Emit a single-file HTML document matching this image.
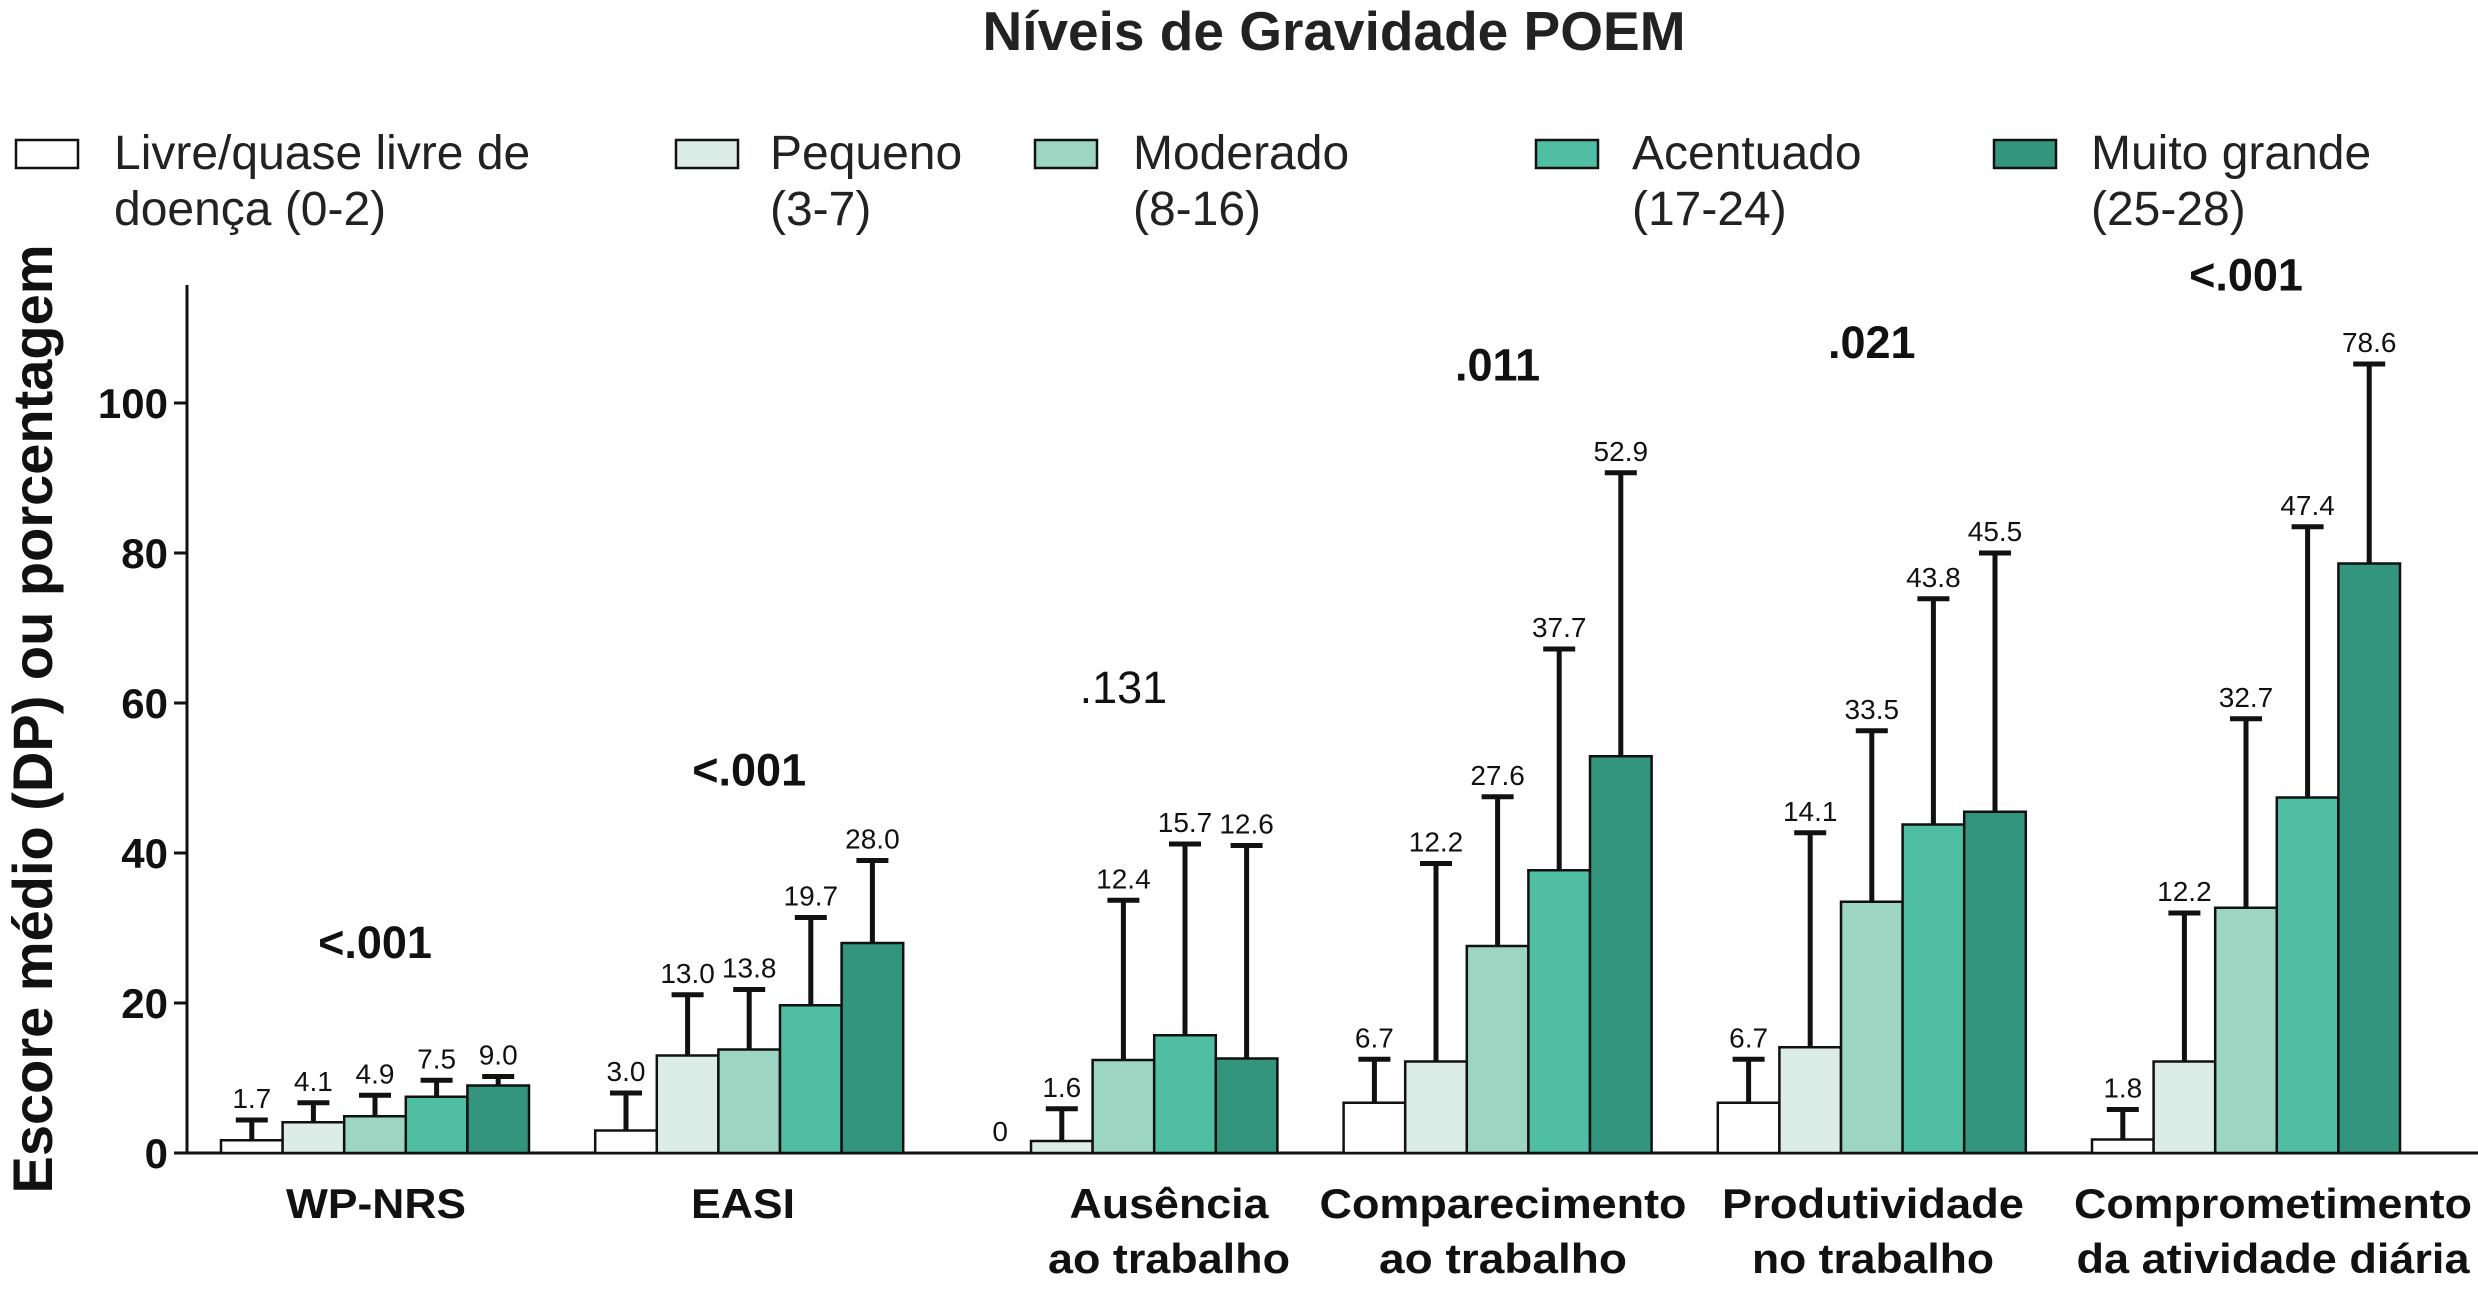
<!DOCTYPE html>
<html><head><meta charset="utf-8"><style>
html,body{margin:0;padding:0;background:#fff;}
svg{display:block;font-family:"Liberation Sans",sans-serif;}
</style></head><body>
<svg id="chart" width="2478" height="1294" viewBox="0 0 2478 1294" xmlns="http://www.w3.org/2000/svg">
<text x="1334" y="50" text-anchor="middle" font-weight="bold" font-size="55" fill="#222">Níveis de Gravidade POEM</text>
<g id="legend"></g>
<text transform="translate(52,719) rotate(-90)" text-anchor="middle" font-weight="bold" font-size="56" fill="#111">Escore médio (DP) ou porcentagem</text>
<g id="axes"></g>
<g id="bars"></g>
<g id="labels"></g>
</svg>
<script>
const categories = ["WP-NRS","EASI","Ausência ao trabalho","Comparecimento ao trabalho","Produtividade no trabalho","Comprometimento da atividade diária"];
const seriesNames = ["Livre/quase livre de doença (0-2)","Pequeno (3-7)","Moderado (8-16)","Acentuado (17-24)","Muito grande (25-28)"];
const meanFree = [1.7, 3.0, 0, 6.7, 6.7, 1.8];
const meanSmall = [4.1, 13.0, 1.6, 12.2, 14.1, 12.2];
const meanModerate = [4.9, 13.8, 12.4, 27.6, 33.5, 32.7];
const meanMarked = [7.5, 19.7, 15.7, 37.7, 43.8, 47.4];
const meanVeryLarge = [9.0, 28.0, 12.6, 52.9, 45.5, 78.6];
const upperFree = [4.4, 8.0, null, 12.5, 12.5, 5.8];
const upperSmall = [6.7, 21.1, 5.9, 38.6, 42.7, 32.0];
const upperModerate = [7.7, 21.8, 33.7, 47.5, 56.3, 57.9];
const upperMarked = [9.7, 31.4, 41.2, 67.2, 73.9, 83.5];
const upperVeryLarge = [10.2, 39.0, 41.0, 90.7, 80.0, 105.2];
const pValues = ["<.001","<.001",".131",".011",".021","<.001"];
const pValueHeights = [26, 49, 60, 103, 106, 115];
const yTicks = [0,20,40,60,80,100];

const means = [meanFree, meanSmall, meanModerate, meanMarked, meanVeryLarge];
const uppers = [upperFree, upperSmall, upperModerate, upperMarked, upperVeryLarge];
const colors = ["#ffffff","#dcede7","#9dd5c3","#4fbea2","#33957d"];
const NS = "http://www.w3.org/2000/svg";
const baseY = 1153, pxPerUnit = 7.5;
const yScale = v => baseY - v * pxPerUnit;
const groupX = g => 221 + g * 374.2;
const barW = 61.6;
const xBar = (g, s) => groupX(g) + s * barW;
function mk(tag, attrs, parent){const e=document.createElementNS(NS,tag);for(const k in attrs)e.setAttribute(k,attrs[k]);parent.appendChild(e);return e;}

const axes = document.getElementById('axes');
let ax = mk('line',{x1:187,y1:285,x2:187,y2:baseY,stroke:'#111','stroke-width':3},axes);


ax = mk('line',{x1:174,y1:baseY,x2:2478,y2:baseY,stroke:'#111','stroke-width':3},axes);


yTicks.forEach(t=>{
  const tk = mk('line',{x1:174,y1:yScale(t),x2:187,y2:yScale(t),stroke:'#111','stroke-width':3},axes);
  
  
  const tl = mk('text',{x:168,y:yScale(t)+15,'text-anchor':'end','font-weight':'bold','font-size':42,fill:'#111'},axes);
  tl.textContent = t;
  
  
});

const bars = document.getElementById('bars');
const labels = document.getElementById('labels');
categories.forEach((c,g)=>{
  means.forEach((arr,s)=>{
    const v = arr[g];
    const x = xBar(g,s);
    if (v > 0) {
      const r = mk('rect',{x:x,y:yScale(v),width:barW,height:baseY-yScale(v),fill:colors[s],stroke:'#111','stroke-width':2.5},bars);
      
      
    }
    const u = uppers[s][g];
    const cx = x + barW/2;
    let topY = yScale(v);
    if (u !== null) {
      const eb = mk('path',{d:`M${cx},${yScale(v)} V${yScale(u)} M${cx-16},${yScale(u)} H${cx+16}`,stroke:'#111','stroke-width':5,fill:'none'},bars);
      
      
      topY = yScale(u);
    }
    const vl = mk('text',{x:cx,y:topY-12,'text-anchor':'middle','font-size':28,fill:'#111'},labels);
    vl.textContent = v === 0 ? '0' : v.toFixed(1);
    
    
  });
  const pv = mk('text',{x:groupX(g)+154,y:yScale(pValueHeights[g]),'text-anchor':'middle','font-weight':(g===2?'normal':'bold'),'font-size':45,fill:'#111'},labels);
  pv.textContent = pValues[g];
  
  
});

const catLines = [["WP-NRS"],["EASI"],["Ausência","ao trabalho"],["Comparecimento","ao trabalho"],["Produtividade","no trabalho"],["Comprometimento","da atividade diária"]];
const catX = [376,743,1169,1503,1873,2273];
const catW = [[180],[104],[199,242],[367,248],[302,242],[398,393]];
catLines.forEach((lines,g)=>{
  lines.forEach((ln,i)=>{
    const t = mk('text',{x:catX[g],y:1218+i*55,'text-anchor':'middle','font-weight':'bold','font-size':42,fill:'#111',textLength:catW[g][i],lengthAdjust:'spacingAndGlyphs'},labels);
    t.textContent = ln;
    
    
  });
});

const legend = document.getElementById('legend');
const legBoxX = [16,676,1035,1536,1994];
const legTextX = [114,770,1133,1632,2091];
const legLines = [["Livre/quase livre de","doença (0-2)"],["Pequeno","(3-7)"],["Moderado","(8-16)"],["Acentuado","(17-24)"],["Muito grande","(25-28)"]];
seriesNames.forEach((n,s)=>{
  const b = mk('rect',{x:legBoxX[s],y:140,width:62,height:28,fill:colors[s],stroke:'#111','stroke-width':2.5},legend);
  
  
  legLines[s].forEach((ln,i)=>{
    const t = mk('text',{x:legTextX[s],y:169+i*56,'font-size':48,fill:'#222'},legend);
    t.textContent = ln;
    
    
  });
});
</script>
</body></html>
